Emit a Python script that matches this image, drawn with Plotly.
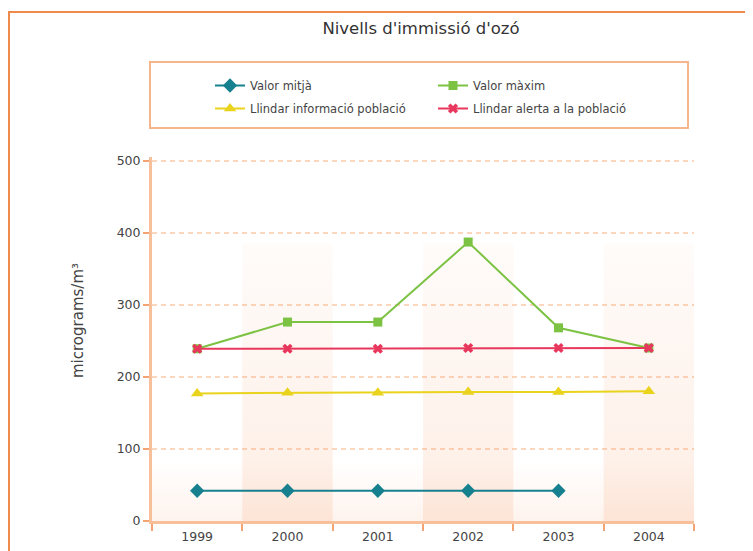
import plotly.graph_objects as go

years = ["1999", "2000", "2001", "2002", "2003", "2004"]
valor_mitja = [42, 42, 42, 42, 42, None]
valor_maxim = [239, 276, 276, 387, 268, 240]
llindar_info = [177, 178, 178, 179, 179, 180]
llindar_alerta = [239, 239, 239, 240, 240, 240]
y_ticks = [0, 100, 200, 300, 400, 500]

xs = list(range(len(years)))
FONT = "DejaVu Sans, Verdana, sans-serif"
ORANGE_LINE = "#f7c09a"
ORANGE_TICK = "#f4a472"
OFF = 8  # page body margin


def px(xr):
    return (xr - 152) / 542


def py(yr):
    return (521 - yr) / 364


fig = go.Figure()

# decorative shaded bands (alternate categories) with vertical gradient
band_top = 385
for i in xs:
    if i % 2 == 1:
        fig.add_trace(go.Scatter(
            x=[i - 0.5, i + 0.5, i + 0.5, i - 0.5, i - 0.5],
            y=[0, 0, band_top, band_top, 0],
            mode="lines", line=dict(width=0), fill="toself",
            fillgradient=dict(type="vertical", start=0, stop=band_top,
                              colorscale=[[0, "rgba(245,140,80,0.15)"],
                                          [1, "rgba(245,140,80,0.03)"]]),
            hoverinfo="skip", showlegend=False))
# bottom gradient strip across the plot
fig.add_trace(go.Scatter(
    x=[-0.5, len(years) - 0.5, len(years) - 0.5, -0.5, -0.5],
    y=[0, 0, 85, 85, 0],
    mode="lines", line=dict(width=0), fill="toself",
    fillgradient=dict(type="vertical", start=0, stop=85,
                      colorscale=[[0, "rgba(245,140,80,0.10)"],
                                  [1, "rgba(245,140,80,0.0)"]]),
    hoverinfo="skip", showlegend=False))

fig.add_trace(go.Scatter(
    x=xs, y=valor_mitja, name="Valor mitjà", mode="lines+markers",
    line=dict(color="#17808f", width=2),
    marker=dict(symbol="diamond", size=11, color="#17808f"),
    legend="legend", legendgroup="g1"))
fig.add_trace(go.Scatter(
    x=xs, y=valor_maxim, name="Valor màxim", mode="lines+markers",
    line=dict(color="#7cc243", width=2),
    marker=dict(symbol="square", size=9, color="#7cc243"),
    legend="legend2", legendgroup="g2"))
fig.add_trace(go.Scatter(
    x=xs, y=llindar_info, name="Llindar informació població", mode="lines+markers",
    line=dict(color="#ead31c", width=2),
    marker=dict(symbol="triangle-up", size=11, color="#ead31c"),
    legend="legend", legendgroup="g3"))
fig.add_trace(go.Scatter(
    x=xs, y=llindar_alerta, name="Llindar alerta a la població", mode="lines+markers",
    line=dict(color="#e8375c", width=2),
    marker=dict(symbol="x", size=9, color="#e8375c"),
    legend="legend2", legendgroup="g4"))

boundaries = [i - 0.5 for i in xs] + [len(years) - 0.5]

legend_font = dict(size=11.5, color="#444", family=FONT)
fig.update_layout(
    width=753, height=551,
    margin=dict(l=152 - OFF, r=753 - (694 - OFF), t=157 - OFF, b=551 - (521 - OFF)),
    paper_bgcolor="white", plot_bgcolor="white",
    font=dict(family=FONT, color="#444444", size=11),
    title=dict(text="Nivells d'immissió d'ozó", x=(421 - OFF) / 753, xanchor="center",
               y=1 - (28 - OFF) / 551, yanchor="middle", xref="container", yref="container",
               font=dict(size=16.5, color="#333333", family=FONT)),
    legend=dict(x=px(210), y=py(71), xanchor="left", yanchor="top",
                bgcolor="rgba(0,0,0,0)", borderwidth=0, font=legend_font,
                tracegroupgap=4),
    legend2=dict(x=px(433), y=py(71), xanchor="left", yanchor="top",
                 bgcolor="rgba(0,0,0,0)", borderwidth=0, font=legend_font,
                 tracegroupgap=4),
    xaxis=dict(range=[-0.5, len(years) - 0.5], tickmode="array", tickvals=xs, ticktext=years,
               ticks="", showgrid=False, zeroline=False, showline=True,
               linecolor=ORANGE_LINE, linewidth=3, ticklabelstandoff=2,
               tickfont=dict(size=12.5, color="#444", family=FONT),
               minor=dict(tickmode="array", tickvals=boundaries, ticks="outside",
                          ticklen=7, tickwidth=2, tickcolor=ORANGE_TICK, showgrid=False)),
    yaxis=dict(range=[0, 505], tickmode="array", tickvals=y_ticks,
               ticks="outside", ticklen=6, tickwidth=2, tickcolor=ORANGE_TICK,
               showgrid=True, gridcolor="#fcd6bd", griddash="5px,4px", gridwidth=1.5,
               zeroline=False, showline=True, linecolor=ORANGE_LINE, linewidth=3,
               tickfont=dict(size=12.5, color="#444", family=FONT)),
    shapes=[
        dict(type="rect", xref="paper", yref="paper",
             x0=px(150), x1=px(688), y0=py(128), y1=py(62),
             line=dict(color="#f6b58b", width=2), fillcolor="rgba(0,0,0,0)"),
        dict(type="rect", xref="paper", yref="paper",
             x0=px(9), x1=px(775), y0=py(590), y1=py(12),
             line=dict(color="#ee8a4c", width=2), fillcolor="rgba(0,0,0,0)"),
    ],
    annotations=[
        dict(text="micrograms/m³", xref="paper", yref="paper",
             x=px(78), y=py(321), showarrow=False,
             textangle=-90, font=dict(size=15, color="#444", family=FONT),
             xanchor="center", yanchor="middle"),
    ],
)

fig.write_html("out.html")
